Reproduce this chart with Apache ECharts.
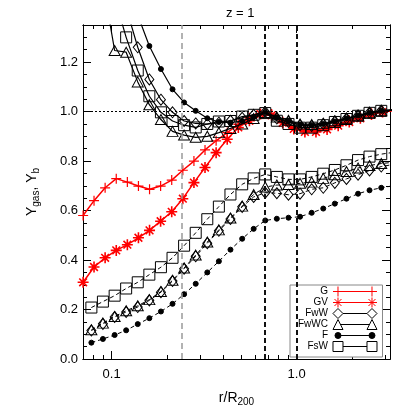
<!DOCTYPE html>
<html>
<head>
<meta charset="utf-8">
<script src="https://cdn.jsdelivr.net/npm/echarts@6/dist/echarts.min.js"></script>
<style>
  html, body { margin: 0; padding: 0; background: #fff; }
  #chart { width: 415px; height: 415px; }
</style>
</head>
<body>
<div id="chart"></div>
<script>
// radial bins (r/R200) of the black runs, first/last bins sit just outside the frame
const rBlack = [0.0672, 0.0777, 0.0897, 0.1038, 0.1198, 0.1384, 0.1599, 0.1847, 0.2134, 0.2465,
  0.2848, 0.329, 0.380, 0.439, 0.508, 0.586, 0.677, 0.782, 0.904, 1.044,
  1.207, 1.394, 1.61, 1.861, 2.15, 2.48, 2.87, 3.32];
// radial bins of the red (G, GV) runs
const rRed = [0.0701, 0.0803, 0.0922, 0.1059, 0.1216, 0.1396, 0.1603, 0.1840, 0.2113, 0.2426,
  0.2786, 0.3198, 0.3672, 0.4216, 0.4841, 0.5558, 0.6381, 0.7327, 0.8413, 0.9658,
  1.109, 1.273, 1.462, 1.679, 1.927, 2.213, 2.541, 2.917, 3.35];

const gVals = [0.58, 0.64, 0.692, 0.729, 0.715, 0.699, 0.686, 0.699, 0.723, 0.763,
  0.80, 0.845, 0.882, 0.915, 0.948, 0.975, 0.99, 0.99, 0.96, 0.935,
  0.925, 0.925, 0.935, 0.95, 0.965, 0.98, 0.993, 1.0, 1.005];
const gvVals = [0.31, 0.372, 0.409, 0.439, 0.462, 0.49, 0.52, 0.557, 0.595, 0.648,
  0.713, 0.774, 0.834, 0.888, 0.936, 0.963, 0.99, 0.985, 0.955, 0.93,
  0.918, 0.918, 0.928, 0.943, 0.958, 0.973, 0.988, 0.998, 1.004];

// Yb branch (solid)
const fwwUpper = [null, null, null, null, 1.42, 1.26, 1.13, 1.048, 0.997, 0.962,
  0.952, 0.949, 0.955, 0.963, 0.975, 0.987, 0.998, 0.972, 0.958, 0.945,
  0.942, 0.95, 0.96, 0.972, 0.984, 0.996, 1.004, 1.006];
const fwwcUpper = [null, null, 1.52, 1.247, 1.24, 1.12, 1.028, 0.968, 0.92, 0.905,
  0.896, 0.9, 0.915, 0.932, 0.95, 0.972, 0.996, 0.978, 0.965, 0.95,
  0.948, 0.953, 0.963, 0.973, 0.985, 0.995, 1.003, 1.006];
const fUpper = [null, null, null, null, null, 1.39, 1.265, 1.172, 1.09, 1.037,
  1.003, 0.973, 0.958, 0.955, 0.962, 0.978, 0.997, 0.975, 0.96, 0.947,
  0.944, 0.95, 0.96, 0.972, 0.984, 0.995, 1.003, 1.006];
const fswUpper = [null, null, null, 1.46, 1.30, 1.166, 1.062, 0.997, 0.962, 0.945,
  0.936, 0.95, 0.96, 0.962, 0.98, 0.987, 0.994, 0.963, 0.95, 0.935,
  0.935, 0.945, 0.958, 0.97, 0.983, 0.995, 1.003, 1.006];

// Ygas branch (dashed)
const fwwLower = [null, 0.115, 0.142, 0.17, 0.19, 0.21, 0.237, 0.27, 0.315, 0.365,
  0.415, 0.468, 0.518, 0.566, 0.615, 0.655, 0.672, 0.67, 0.664, 0.668,
  0.686, 0.692, 0.712, 0.728, 0.745, 0.762, 0.778, 0.786];
const fwwcLower = [null, 0.118, 0.145, 0.172, 0.195, 0.215, 0.24, 0.273, 0.318, 0.368,
  0.42, 0.473, 0.522, 0.57, 0.618, 0.665, 0.695, 0.703, 0.705, 0.71,
  0.715, 0.73, 0.745, 0.758, 0.772, 0.782, 0.79, 0.795];
const fLower = [null, 0.066, 0.081, 0.097, 0.116, 0.141, 0.165, 0.192, 0.223, 0.262,
  0.304, 0.350, 0.395, 0.442, 0.486, 0.526, 0.560, 0.567, 0.571, 0.575,
  0.591, 0.608, 0.628, 0.648, 0.668, 0.682, 0.692, 0.70];
const fswLower = [null, 0.208, 0.232, 0.256, 0.285, 0.31, 0.341, 0.371, 0.409, 0.458,
  0.51, 0.565, 0.616, 0.665, 0.706, 0.73, 0.746, 0.736, 0.726, 0.726,
  0.736, 0.749, 0.764, 0.783, 0.804, 0.818, 0.828, 0.835];

// reference lines
const refRadii = [0.245, 0.67, 1.0];
const xMajor = [0.1, 1];
const xMinor = [0.08, 0.09, 0.2, 0.3, 0.4, 0.5, 0.6, 0.7, 0.8, 0.9, 2, 3];
const yMajor = [0, 0.2, 0.4, 0.6, 0.8, 1.0, 1.2];
const yMinor = [0.05, 0.1, 0.15, 0.25, 0.3, 0.35, 0.45, 0.5, 0.55, 0.65, 0.7, 0.75,
  0.85, 0.9, 0.95, 1.05, 1.1, 1.15, 1.25, 1.3];

const font = "'Liberation Sans', Arial, Helvetica, sans-serif";
const xMin = 0.07, xMax = 3.2, yMin = 0, yMax = 1.35;

const plusPath = 'path://M5,0L5,10M0,5L10,5';
const starPath = 'path://M5,0L5,10M0,5L10,5M1.5,1.5L8.5,8.5M1.5,8.5L8.5,1.5';

function pairs(rs, vals) {
  return rs.map((r, i) => [r, vals[i]]);
}

function xAxisOf(position, ticks, len, withLabels) {
  let ax = {
    type: 'log', logBase: 10, min: xMin, max: xMax, position: position,
    axisLine: { show: true, onZero: false, lineStyle: { color: '#000', width: 1 } },
    axisTick: { show: true, inside: true, length: len, customValues: ticks, lineStyle: { color: '#000' } },
    axisLabel: { show: false },
    splitLine: { show: false }
  };
  if (withLabels) {
    ax.axisLabel = {
      show: true, customValues: xMajor, margin: 9, color: '#000', fontSize: 13, fontFamily: font,
      formatter: v => Number(v).toFixed(1)
    };
    ax.name = 'r/R{sub|200}';
    ax.nameLocation = 'middle';
    ax.nameGap = 30;
    ax.nameTextStyle = {
      color: '#000', fontSize: 14, fontFamily: font,
      rich: { sub: { fontSize: 10, fontFamily: font, color: '#000', padding: [8, 0, 0, 0] } }
    };
  }
  return ax;
}

function yAxisOf(position, ticks, len, withLabels) {
  let ax = {
    type: 'value', min: yMin, max: yMax, position: position,
    axisLine: { show: true, onZero: false, lineStyle: { color: '#000', width: 1 } },
    axisTick: { show: true, inside: true, length: len, customValues: ticks, lineStyle: { color: '#000' } },
    axisLabel: { show: false },
    splitLine: { show: false }
  };
  if (withLabels) {
    ax.axisLabel = {
      show: true, customValues: yMajor, margin: 5, color: '#000', fontSize: 13, fontFamily: font,
      formatter: v => Number(v).toFixed(1)
    };
    ax.name = 'Y{sub|gas}, Y{sub|b}';
    ax.nameLocation = 'middle';
    ax.nameRotate = 90;
    ax.nameGap = 42;
    ax.nameTextStyle = {
      color: '#000', fontSize: 14, fontFamily: font,
      rich: { sub: { fontSize: 10, fontFamily: font, color: '#000', padding: [8, 0, 0, 0] } }
    };
  }
  return ax;
}

function markerSeries(name, rs, vals, opts) {
  return {
    name: name,
    type: 'line',
    data: pairs(rs, vals),
    clip: true,
    connectNulls: false,
    symbol: opts.symbol,
    symbolSize: opts.size,
    showSymbol: true,
    lineStyle: { color: opts.color, width: opts.width || 1.2, type: opts.dashed ? [4, 3] : 'solid' },
    itemStyle: {
      color: opts.fill || 'rgba(0,0,0,0)',
      borderColor: opts.color,
      borderWidth: opts.border || 1
    },
    emphasis: { disabled: true },
    z: opts.z || 2
  };
}

let chart = echarts.init(document.getElementById('chart'), null, { renderer: 'canvas' });

let series = [
  markerSeries('G', rRed, gVals, { symbol: plusPath, size: 10, color: '#ff0000', width: 1.5, border: 1.2, z: 2 }),
  markerSeries('GV', rRed, gvVals, { symbol: starPath, size: 11, color: '#ff0000', width: 1.5, border: 1.6, z: 2 }),
  markerSeries('FwW', rBlack, fwwUpper, { symbol: 'diamond', size: [9, 11], color: '#000', z: 3 }),
  markerSeries('FwW', rBlack, fwwLower, { symbol: 'diamond', size: [9, 11], color: '#000', dashed: true, width: 1, z: 3 }),
  markerSeries('FwWC', rBlack, fwwcUpper, { symbol: 'triangle', size: [11, 10], color: '#000', z: 3 }),
  markerSeries('FwWC', rBlack, fwwcLower, { symbol: 'triangle', size: [11, 10], color: '#000', dashed: true, width: 1, z: 3 }),
  markerSeries('F', rBlack, fUpper, { symbol: 'circle', size: 5, color: '#000', fill: '#000', z: 3 }),
  markerSeries('F', rBlack, fLower, { symbol: 'circle', size: 5, color: '#000', fill: '#000', dashed: true, width: 1, z: 3 }),
  markerSeries('FsW', rBlack, fswUpper, { symbol: 'rect', size: 11, color: '#000', z: 3 }),
  markerSeries('FsW', rBlack, fswLower, { symbol: 'rect', size: 11, color: '#000', dashed: true, width: 1, z: 3 })
];

// dotted unity line and the vertical radii markers
series[0].markLine = {
  silent: true,
  symbol: ['none', 'none'],
  label: { show: false },
  animation: false,
  data: [
    { yAxis: 1, lineStyle: { color: '#000', width: 1.2, type: [2, 2] } },
    { xAxis: refRadii[0], lineStyle: { color: '#999', width: 1.5, type: [6, 4] } },
    { xAxis: refRadii[1], lineStyle: { color: '#111', width: 2, type: [5, 3] } },
    { xAxis: refRadii[2], lineStyle: { color: '#111', width: 2, type: [5, 3] } }
  ]
};

const hollow = c => ({ color: 'rgba(0,0,0,0)', borderColor: c, borderWidth: 1 });

let option = {
  animation: false,
  backgroundColor: '#fff',
  title: {
    text: 'z = 1',
    left: 221, top: 2,
    textStyle: { color: '#000', fontSize: 13, fontWeight: 'normal', fontFamily: font }
  },
  grid: { left: 83, right: 25, top: 25, bottom: 56, containLabel: false, outerBoundsMode: 'none' },
  xAxis: [
    xAxisOf('bottom', xMajor, 8, true),
    xAxisOf('bottom', xMinor, 4, false),
    xAxisOf('top', xMajor, 8, false),
    xAxisOf('top', xMinor, 4, false)
  ],
  yAxis: [
    yAxisOf('left', yMajor, 8, true),
    yAxisOf('left', yMinor, 4, false),
    yAxisOf('right', yMajor, 8, false),
    yAxisOf('right', yMinor, 4, false)
  ],
  legend: {
    orient: 'vertical',
    left: 290, top: 285,
    align: 'right',
    itemWidth: 44, itemHeight: 10, itemGap: 0,
    padding: [1, 5, 5, 8],
    backgroundColor: '#fff',
    borderColor: '#888', borderWidth: 1, borderRadius: 0,
    selectedMode: false,
    textStyle: { fontSize: 10, color: '#000', fontFamily: font, lineHeight: 10 },
    data: [
      { name: 'G', icon: 'path://M5,0L5,10M0,5L10,5M39,0L39,10M34,5L44,5M5,5L39,5', itemStyle: hollow('#ff0000') },
      { name: 'GV', icon: 'path://M5,0L5,10M0,5L10,5M1.5,1.5L8.5,8.5M1.5,8.5L8.5,1.5M39,0L39,10M34,5L44,5M35.5,1.5L42.5,8.5M35.5,8.5L42.5,1.5M5,5L39,5', itemStyle: hollow('#ff0000') },
      { name: 'FwW', icon: 'path://M5,0L10,5L5,10L0,5ZM39,0L44,5L39,10L34,5ZM10,5L34,5', itemStyle: hollow('#000') },
      { name: 'FwWC', icon: 'path://M5,0L10,10L0,10ZM39,0L44,10L34,10ZM7.5,5L36.5,5', itemStyle: hollow('#000') },
      { name: 'F', icon: 'path://M0,0M44,10M2,5A3,3,0,1,1,8,5A3,3,0,1,1,2,5ZM36,5A3,3,0,1,1,42,5A3,3,0,1,1,36,5ZM8,5L36,5', itemStyle: { color: '#000', borderColor: '#000', borderWidth: 1 } },
      { name: 'FsW', icon: 'path://M0,0L10,0L10,10L0,10ZM34,0L44,0L44,10L34,10ZM10,5L34,5', itemStyle: hollow('#000') }
    ]
  },
  series: series
};

chart.setOption(option);
</script>
</body>
</html>
